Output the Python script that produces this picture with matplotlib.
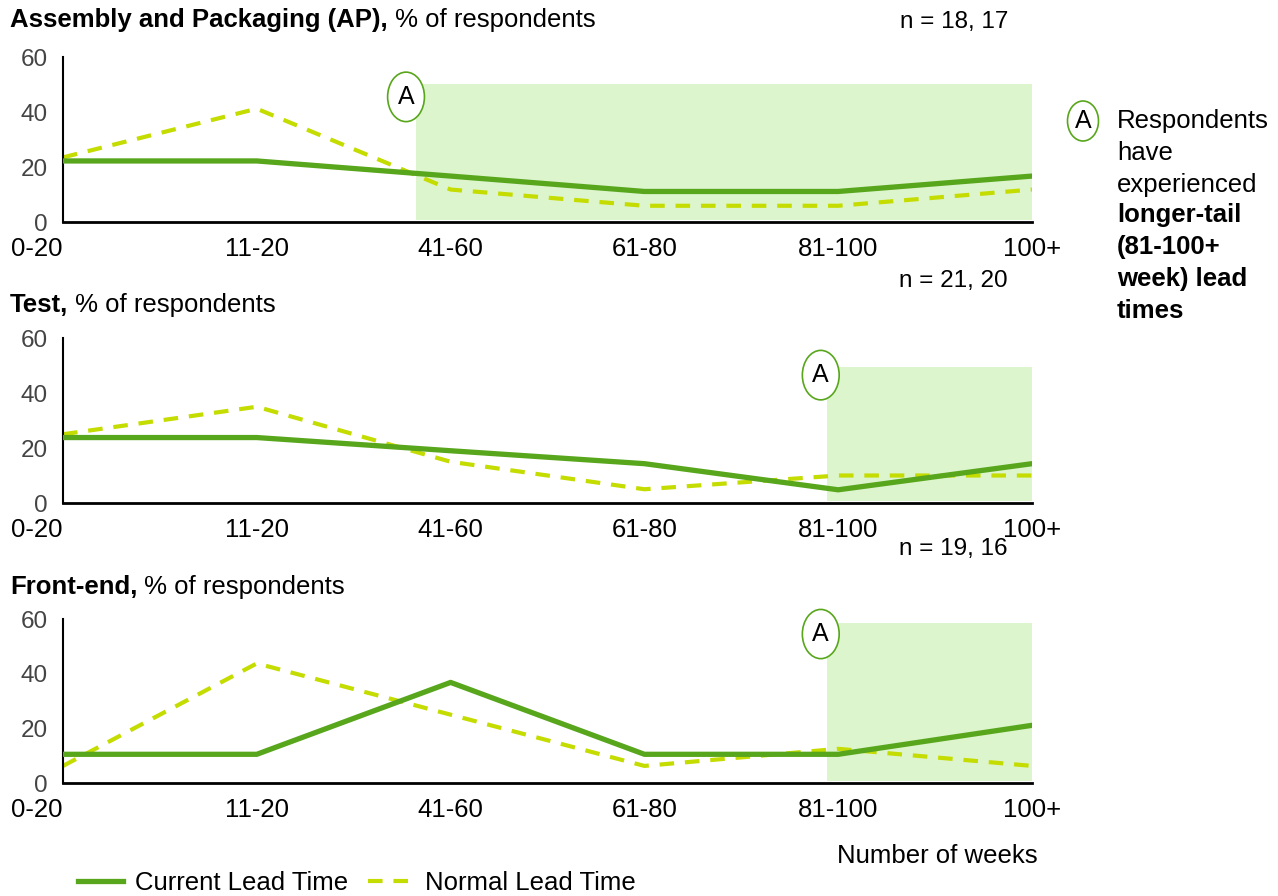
import matplotlib
matplotlib.use("Agg")
import matplotlib.pyplot as plt
from matplotlib.patches import Ellipse, Rectangle
from matplotlib.lines import Line2D

plt.rcParams['font.family'] = ['Liberation Sans', 'DejaVu Sans']

# data (% of respondents)
weeks = ["0-20", "11-20", "41-60", "61-80", "81-100", "100+"]

ap_current = [22.2, 22.2, 16.7, 11.1, 11.1, 16.7]
ap_normal = [23.5, 41.2, 11.8, 5.9, 5.9, 11.8]

test_current = [23.8, 23.8, 19.0, 14.3, 4.8, 14.3]
test_normal = [25.0, 35.0, 15.0, 5.0, 10.0, 10.0]

fe_current = [10.5, 10.5, 36.8, 10.5, 10.5, 21.1]
fe_normal = [6.25, 43.75, 25.0, 6.25, 12.5, 6.25]

panel_titles = ["Assembly and Packaging (AP),", "Test,", "Front-end,"]
panel_n = ["n = 18, 17", "n = 21, 20", "n = 19, 16"]
shade_start = [1.82, 3.94, 3.94]

GREEN = "#58a61c"
LIME = "#c5dc00"
SHADE = "#dcf5cd"
FS = 18.5

W, H = 1278, 896
fig = plt.figure(figsize=(W / 100, H / 100), dpi=100)


def fx(px):
    return px / W


def fy(py):
    return 1 - py / H


panels = [
    (ap_current, ap_normal, 222, 57),
    (test_current, test_normal, 503, 338),
    (fe_current, fe_normal, 783, 619),
]
title_y = [20, 305, 587]
n_y = [22, 281, 549]
circle_pos = [(1.77, 45.5), (3.91, 46.5), (3.91, 54.5)]
shade_top = [50, 49.5, 58.5]

x = list(range(len(weeks)))
for i, (cur, nor, y0, y60) in enumerate(panels):
    ax = fig.add_axes([fx(63), fy(y0), fx(1032) - fx(63), (y0 - y60) / H])
    ax.set_xlim(0, 5)
    ax.set_ylim(0, 60)
    ax.add_patch(Rectangle((shade_start[i], 0.8), 5 - shade_start[i], shade_top[i] - 0.8,
                           facecolor=SHADE, edgecolor="none", zorder=0))
    ax.plot(x, cur, color=GREEN, lw=3.8, solid_capstyle="round", zorder=3)
    ax.plot(x, nor, color=LIME, lw=3.0, dashes=(3.5, 2.6), zorder=2)
    for s in ["top", "right"]:
        ax.spines[s].set_visible(False)
    ax.spines["left"].set_linewidth(1.5)
    ax.spines["bottom"].set_linewidth(2.0)
    ax.set_yticks([0, 20, 40, 60])
    ax.tick_params(axis="y", length=0, pad=11, labelsize=17.5, labelcolor="#444444")
    ax.set_xticks(x)
    ax.set_xticklabels(weeks)
    ax.tick_params(axis="x", length=0, pad=11, labelsize=FS)
    lbl0 = ax.get_xticklabels()[0]
    lbl0.set_horizontalalignment("right")
    lbl0.set_x(0.015)
    ax.patch.set_alpha(0)

    cx, cy = circle_pos[i]
    ax.add_patch(Ellipse((cx, cy), 0.19, 18, facecolor="white", edgecolor=GREEN,
                         lw=1.2, zorder=5, clip_on=False))
    ax.text(cx, cy, "A", ha="center", va="center", fontsize=18, zorder=6)

    t = fig.text(fx(10), fy(title_y[i]), panel_titles[i], fontsize=FS,
                 fontweight="bold", va="center")
    ax.annotate(" % of respondents", xy=(1, 0.5), xycoords=t, fontsize=FS,
                va="center", ha="left", annotation_clip=False)
    fig.text(fx(1008), fy(n_y[i]), panel_n[i], fontsize=17.5, ha="right", va="center")

fig.text(fx(937), fy(856), "Number of weeks", fontsize=FS, ha="center", va="center")

# side note
fig.patches.append(Ellipse((fx(1083), fy(121)), fx(31), 40 / H, transform=fig.transFigure,
                           facecolor="white", edgecolor=GREEN, lw=1.2, figure=fig))
fig.text(fx(1083), fy(121), "A", fontsize=18, ha="center", va="center")
fig.text(fx(1117), fy(109), "Respondents\nhave\nexperienced", fontsize=FS,
         va="top", ha="left", linespacing=1.42)
fig.text(fx(1117), fy(203), "longer-tail\n(81-100+\nweek) lead\ntimes", fontsize=FS,
         va="top", ha="left", fontweight="bold", linespacing=1.42)

handles = [Line2D([], [], color=GREEN, lw=3.8),
           Line2D([], [], color=LIME, lw=3.0, dashes=(3.5, 2.6))]
fig.legend(handles, ["Current Lead Time", "Normal Lead Time"], loc="center left",
           bbox_to_anchor=(fx(55), fy(883)), ncol=2, frameon=False, fontsize=FS,
           handlelength=1.75, columnspacing=0.8, handletextpad=0.45)

fig.savefig("out.png", dpi=100)
